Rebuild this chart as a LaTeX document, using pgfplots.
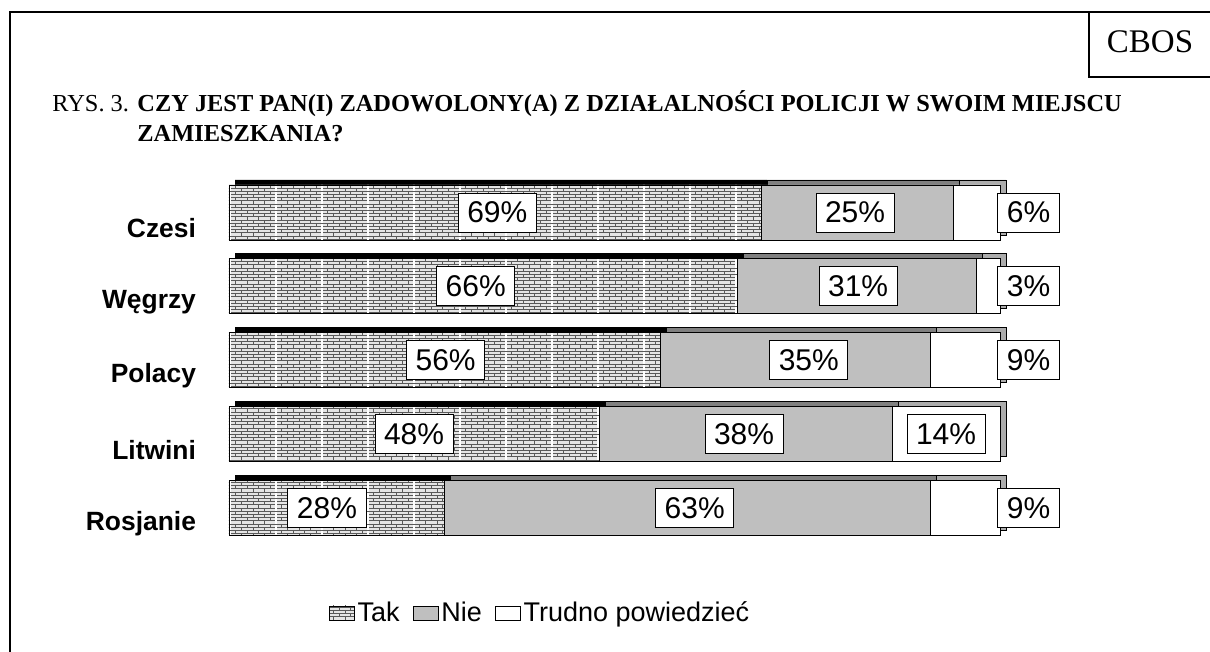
\documentclass[border=0pt]{standalone}
\usepackage{pgfplots}
\pgfplotsset{compat=1.18}
\usepackage{pgfplotstable}
\usepackage{fontspec}
\setmainfont{Liberation Serif}
\newfontfamily\arial{Liberation Sans}
\usetikzlibrary{patterns}

\pgfdeclarepatterninherentlycolored{smallbricks}{\pgfqpoint{-0.5pt}{-0.5pt}}{\pgfqpoint{23.5pt}{3.5pt}}{\pgfqpoint{23pt}{3.2pt}}{
 \pgfsetlinewidth{0.45pt}
 \pgfsetstrokecolor{gray!70!black}
 \pgfpathmoveto{\pgfqpoint{0pt}{0pt}}\pgfpathlineto{\pgfqpoint{23pt}{0pt}}
 \pgfpathmoveto{\pgfqpoint{0pt}{1.6pt}}\pgfpathlineto{\pgfqpoint{23pt}{1.6pt}}
 \pgfpathmoveto{\pgfqpoint{5.75pt}{0pt}}\pgfpathlineto{\pgfqpoint{5.75pt}{1.6pt}}
 \pgfpathmoveto{\pgfqpoint{11.5pt}{0pt}}\pgfpathlineto{\pgfqpoint{11.5pt}{1.6pt}}
 \pgfpathmoveto{\pgfqpoint{17.25pt}{0pt}}\pgfpathlineto{\pgfqpoint{17.25pt}{1.6pt}}
 \pgfpathmoveto{\pgfqpoint{2.875pt}{1.6pt}}\pgfpathlineto{\pgfqpoint{2.875pt}{3.2pt}}
 \pgfpathmoveto{\pgfqpoint{8.625pt}{1.6pt}}\pgfpathlineto{\pgfqpoint{8.625pt}{3.2pt}}
 \pgfpathmoveto{\pgfqpoint{14.375pt}{1.6pt}}\pgfpathlineto{\pgfqpoint{14.375pt}{3.2pt}}
 \pgfpathmoveto{\pgfqpoint{20.125pt}{1.6pt}}\pgfpathlineto{\pgfqpoint{20.125pt}{3.2pt}}
 \pgfusepath{stroke}
 \pgfsetlinewidth{0.7pt}
 \pgfsetstrokecolor{white}
 \pgfpathmoveto{\pgfqpoint{0pt}{0pt}}\pgfpathlineto{\pgfqpoint{0pt}{3.2pt}}
 \pgfusepath{stroke}}

\pgfplotstableread{
cat tak nie tr
0 28 63 9
1 48 38 14
2 56 35 9
3 66 31 3
4 69 25 6
}\bars

\pgfplotstableread{
x y v
12.7 0 28
60.4 0 63
103.7 0 9
24.0 1 48
66.8 1 38
93.0 1 14
28.1 2 56
75.2 2 35
103.7 2 9
32.0 3 66
81.6 3 31
103.7 3 3
34.8 4 69
81.2 4 25
103.7 4 6
}\labels

\pgfplotsset{base/.style={width=385.5pt, height=184.75pt, scale only axis,
  xmin=0, xmax=100, ymin=-0.5, ymax=4.5, axis line style={draw=none},
  xtick=\empty, ytick=\empty, major tick length=0pt, clip=false, anchor=south west,
  /pgf/number format/assume math mode=true}}

\begin{document}
\begin{tikzpicture}
\useasboundingbox (0,0) rectangle (605pt,326pt);
% frame
\draw[line width=1.2pt] (5pt,0pt) -- (5pt,320pt) -- (606pt,320pt);
\draw[line width=1.2pt] (544.5pt,320pt) -- (544.5pt,287.5pt) -- (606pt,287.5pt);
\node[font=\fontsize{16.5}{20}\selectfont] at (575pt,305pt) {CBOS};
% title
\node[anchor=base west, inner sep=0pt, font=\fontsize{12.2}{15}\selectfont] at (26pt,270pt) {RYS. 3.};
\node[anchor=base west, inner sep=0pt, font=\bfseries\fontsize{12.2}{15}\selectfont] at (68.5pt,270pt) {CZY JEST PAN(I) ZADOWOLONY(A) Z DZIAŁALNOŚCI POLICJI W SWOIM MIEJSCU};
\node[anchor=base west, inner sep=0pt, font=\bfseries\fontsize{12.2}{15}\selectfont] at (68.5pt,255pt) {ZAMIESZKANIA?};

% 3D shadow bars
\begin{axis}[base, at={(117.5pt,56pt)}, xbar stacked, bar width=27.5pt]
\addplot[fill=black, draw=black, line width=0.4pt] table[x=tak, y=cat] {\bars};
\addplot[fill=gray, draw=black, line width=0.4pt] table[x=nie, y=cat] {\bars};
\addplot[fill=gray!65, draw=black, line width=0.4pt] table[x=tr, y=cat] {\bars};
\end{axis}

% main bars
\begin{axis}[base, at={(114.5pt,53.5pt)}, xbar stacked, bar width=27.5pt,
  ytick={0,1,2,3,4}, yticklabels={Rosjanie,Litwini,Polacy,Węgrzy,Czesi},
  yticklabel style={font=\arial\bfseries\fontsize{13.2}{15}\selectfont, yshift=-7.75pt, xshift=-13pt},
  legend style={at={(0.404,-0.184)}, anchor=center, draw=none, fill=none,
    legend columns=-1, font=\arial\fontsize{13.5}{15}\selectfont,
    nodes={inner xsep=1.5pt},
    /tikz/every even column/.append style={column sep=5pt}},
  legend image code/.code={\draw[#1] (0pt,-3.5pt) rectangle (12.5pt,3.5pt);}]
\addplot[fill=gray!20, draw=black, line width=0.4pt,
  postaction={pattern=smallbricks}] table[x=tak, y=cat] {\bars};
\addlegendentry{Tak}
\addplot[fill=gray!50, draw=black, line width=0.4pt] table[x=nie, y=cat] {\bars};
\addlegendentry{Nie}
\addplot[fill=white, draw=black, line width=0.4pt] table[x=tr, y=cat] {\bars};
\addlegendentry{Trudno powiedzieć}
\end{axis}

% value labels
\begin{axis}[base, at={(114.5pt,53.5pt)}]
\addplot[draw=none, mark=none, point meta=explicit,
  nodes near coords={\pgfmathprintnumber{\pgfplotspointmeta}\%},
  nodes near coords align=center,
  every node near coord/.append style={anchor=center, draw=black, line width=0.4pt, fill=white,
    font=\arial\fontsize{15}{18}\selectfont, inner xsep=4.5pt, minimum height=19.5pt}]
  table[x=x, y=y, meta=v] {\labels};
\end{axis}
\end{tikzpicture}
\end{document}
